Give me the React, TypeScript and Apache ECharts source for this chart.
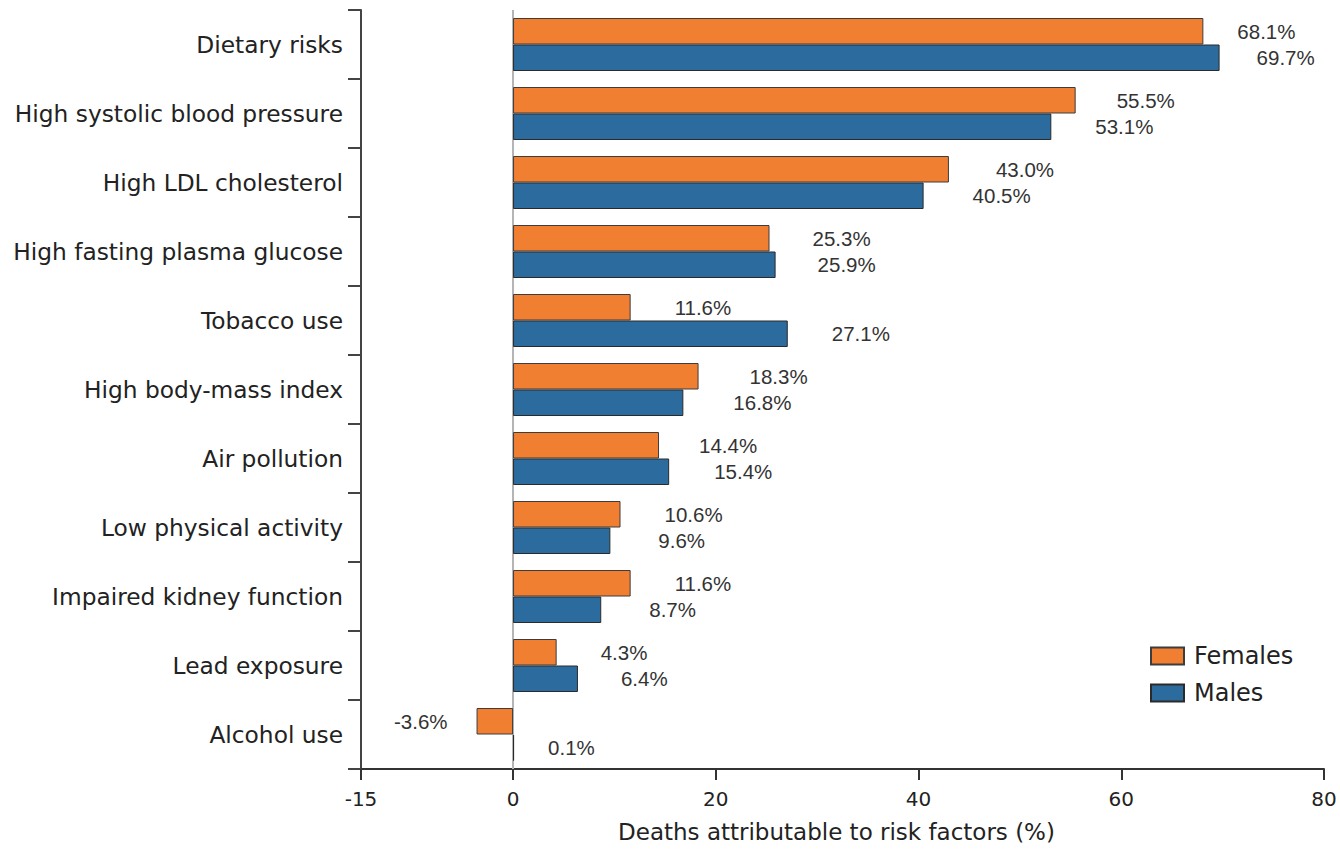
import React, { useEffect, useRef } from "react";
import * as echarts from "echarts";

const categories = [
  "Dietary risks",
  "High systolic blood pressure",
  "High LDL cholesterol",
  "High fasting plasma glucose",
  "Tobacco use",
  "High body-mass index",
  "Air pollution",
  "Low physical activity",
  "Impaired kidney function",
  "Lead exposure",
  "Alcohol use",
];
const females = [68.1, 55.5, 43.0, 25.3, 11.6, 18.3, 14.4, 10.6, 11.6, 4.3, -3.6];
const males = [69.7, 53.1, 40.5, 25.9, 27.1, 16.8, 15.4, 9.6, 8.7, 6.4, 0.1];
const xTicks = [-15, 0, 20, 40, 60, 80];
// label distance (px) from bar end, as in the reference
const femaleLabelGap = [34, 41, 47, 43, 44, 51, 40, 44, 44, 44, 29];
const maleLabelGap = [37, 44, 49, 42, 44, 50, 45, 48, 48, 43, 34];

const ORANGE = "#F07F32";
const BLUE = "#2C6B9E";
const FONT = "DejaVu Sans";
const LABEL_FONT = "Liberation Sans";

function buildData(values: number[], gaps: number[]) {
  return values.map((v, i) => ({
    value: v,
    label: {
      position: v < 0 ? "left" : "right",
      distance: gaps[i],
    },
  }));
}

export default function App() {
  const ref = useRef<HTMLDivElement>(null);
  useEffect(() => {
    if (!ref.current) return;
    const chart = echarts.init(ref.current, null, { renderer: "svg" });
    const labelCommon = {
      show: true,
      fontFamily: LABEL_FONT,
      fontSize: 20.5,
      color: "#333",
      formatter: (p: any) => `${Number(p.value).toFixed(1)}%`,
    };
    chart.setOption({
      animation: false,
      backgroundColor: "#fff",
      grid: {
        left: 361,
        right: 16,
        top: 10,
        bottom: 82,
        containLabel: false,
        outerBoundsMode: "none",
      },
      legend: {
        orient: "vertical",
        left: 1150,
        top: 644,
        padding: 0,
        itemWidth: 33,
        itemHeight: 17,
        itemGap: 13,
        icon: "rect",
        textStyle: {
          fontFamily: FONT,
          fontSize: 24,
          color: "#222",
          padding: [0, 0, 0, 5],
        },
        data: ["Females", "Males"],
      },
      xAxis: {
        type: "value",
        min: -15,
        max: 80,
        splitLine: { show: false },
        axisLine: { show: true, lineStyle: { color: "#333", width: 2 } },
        axisTick: {
          show: true,
          length: 11,
          customValues: xTicks,
          lineStyle: { color: "#333", width: 2 },
        },
        axisLabel: {
          customValues: xTicks,
          fontFamily: FONT,
          fontSize: 20,
          color: "#222",
          margin: 20,
        },
        name: "Deaths attributable to risk factors (%)",
        nameLocation: "middle",
        nameGap: 51,
        nameTextStyle: {
          fontFamily: FONT,
          fontSize: 23,
          color: "#222",
          padding: [0, 12, 0, 0],
        },
      },
      yAxis: {
        type: "category",
        data: categories,
        inverse: true,
        axisLine: { show: true, onZero: false, lineStyle: { color: "#444", width: 2 } },
        axisTick: { show: true, length: 13, lineStyle: { color: "#444", width: 2 } },
        axisLabel: {
          fontFamily: FONT,
          fontSize: 23.3,
          color: "#222",
          margin: 18,
        },
        splitLine: { show: false },
      },
      series: [
        {
          name: "Females",
          type: "bar",
          barWidth: 26.5,
          barGap: "0%",
          itemStyle: { color: ORANGE, borderColor: "#3d3d3d", borderWidth: 1 },
          label: labelCommon,
          data: buildData(females, femaleLabelGap),
          markLine: {
            silent: true,
            symbol: ["none", "none"],
            label: { show: false },
            lineStyle: { color: "#b5b5b5", width: 2, type: "solid" },
            data: [{ xAxis: 0 }],
            z: 1,
          },
        },
        {
          name: "Males",
          type: "bar",
          barWidth: 26.5,
          barGap: "0%",
          itemStyle: { color: BLUE, borderColor: "#2a2a2a", borderWidth: 1 },
          label: labelCommon,
          data: buildData(males, maleLabelGap),
        },
      ],
    });
    return () => chart.dispose();
  }, []);
  return (
    <div
      ref={ref}
      style={{ position: "fixed", left: 0, top: 0, width: 1340, height: 851 }}
    />
  );
}
